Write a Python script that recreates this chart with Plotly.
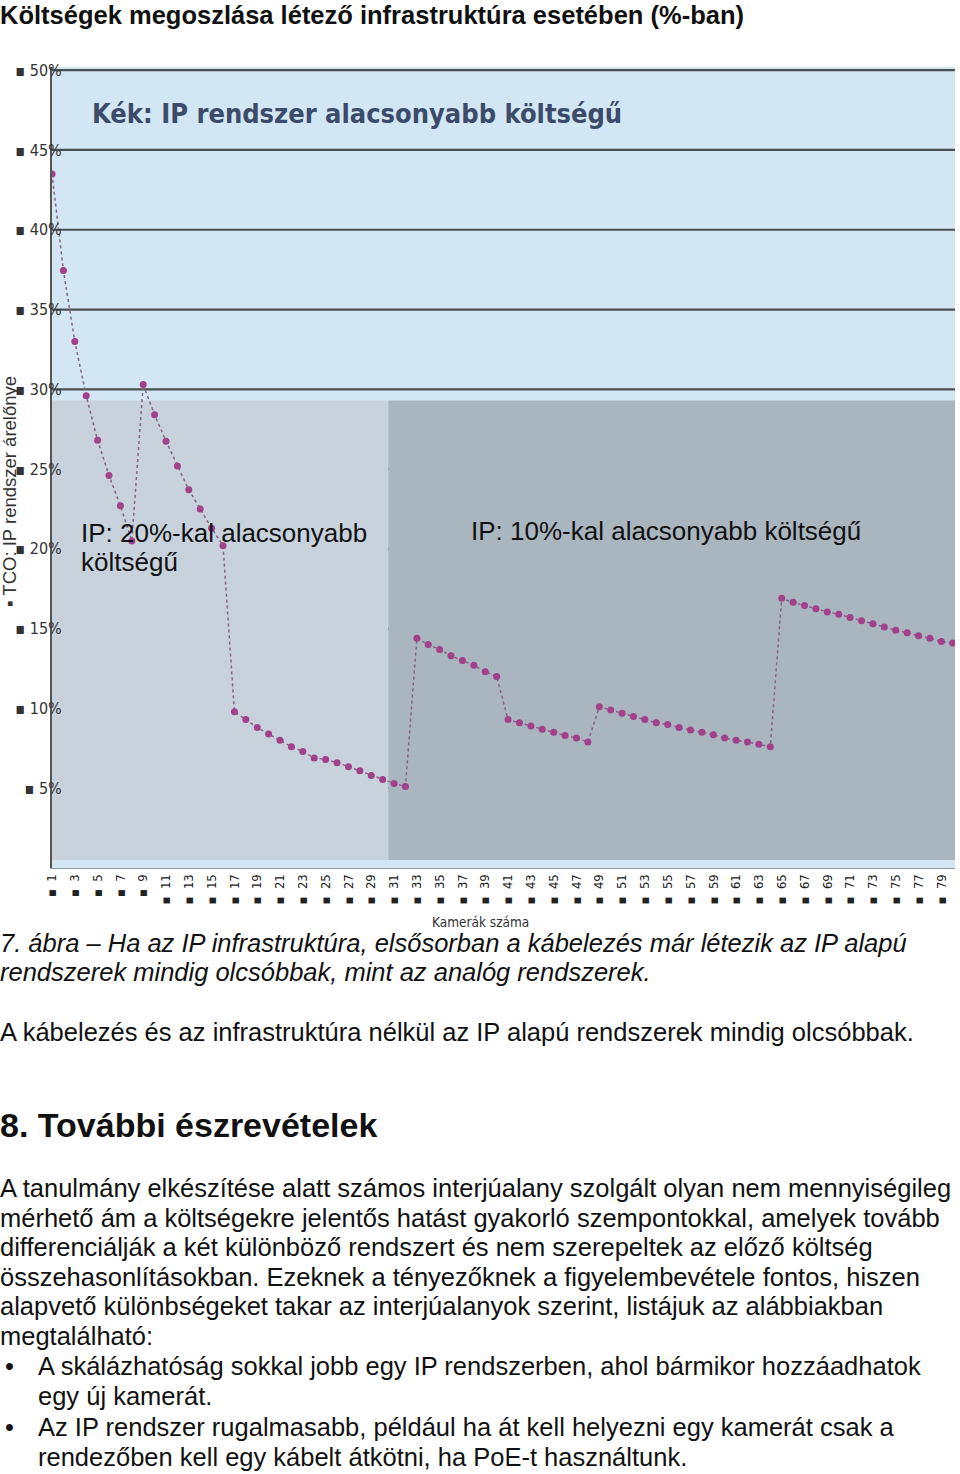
import plotly.graph_objects as go

# --- data ---
cameras = list(range(1, 81))
tco_advantage = [
    43.5, 37.45, 33.0, 29.6, 26.8, 24.6, 22.7, 20.5,
    30.3, 28.4, 26.75, 25.2, 23.7, 22.5, 21.3, 20.2,
    9.8, 9.3, 8.8, 8.4, 8.0, 7.6, 7.3, 6.9, 6.8, 6.6, 6.35, 6.1, 5.8, 5.55, 5.3, 5.1,
    14.4, 14.0, 13.7, 13.3, 13.0, 12.7, 12.3, 12.0,
    9.3, 9.1, 8.9, 8.7, 8.5, 8.3, 8.15, 7.9,
    10.1, 9.9, 9.7, 9.5, 9.3, 9.1, 9.0, 8.8, 8.65, 8.5, 8.35, 8.15, 8.0, 7.9, 7.75, 7.6,
    16.9, 16.65, 16.45, 16.25, 16.05, 15.9, 15.7, 15.5, 15.3, 15.1, 14.9, 14.75, 14.55, 14.4, 14.2, 14.1,
]
x_tickvals = list(range(1, 80, 2))
x_ticktext = ["\u25aa\u00a0\u00a0" + str(v) for v in x_tickvals]
y_tickvals = [5, 10, 15, 20, 25, 30, 35, 40, 45, 50]
y_ticktext = ["\u25aa " + str(v) + "%" for v in y_tickvals]
grid_levels = [5, 15, 20, 25, 30, 35, 40, 45, 50]

page_title = "Költségek megoszlása létező infrastruktúra esetében (%-ban)"
chart_banner = "Kék: IP rendszer alacsonyabb költségű"
zone_left_text = ["IP: 20%-kal alacsonyabb", "költségű"]
zone_right_text = "IP: 10%-kal alacsonyabb költségű"
caption_lines = [
    "7. ábra – Ha az IP infrastruktúra, elsősorban a kábelezés már létezik az IP alapú",
    "rendszerek mindig olcsóbbak, mint az analóg rendszerek.",
]
note_line = "A kábelezés és az infrastruktúra nélkül az IP alapú rendszerek mindig olcsóbbak."
section_title = "8. További észrevételek"
paragraph_lines = [
    "A tanulmány elkészítése alatt számos interjúalany szolgált olyan nem mennyiségileg",
    "mérhető ám a költségekre jelentős hatást gyakorló szempontokkal, amelyek tovább",
    "differenciálják a két különböző rendszert és nem szerepeltek az előző költség",
    "összehasonlításokban. Ezeknek a tényezőknek a figyelembevétele fontos, hiszen",
    "alapvető különbségeket takar az interjúalanyok szerint, listájuk az alábbiakban",
    "megtalálható:",
]
bullet_items = [
    ["A skálázhatóság sokkal jobb egy IP rendszerben, ahol bármikor hozzáadhatok",
     "egy új kamerát."],
    ["Az IP rendszer rugalmasabb, például ha át kell helyezni egy kamerát csak a",
     "rendezőben kell egy kábelt átkötni, ha PoE-t használtunk."],
]

# --- page geometry (pixels) ---
W, H = 960, 1474
L, R, T, B = 52, 5, 67, 606
PW, PH = W - L - R, H - T - B
BODY = "Liberation Sans, Arial, sans-serif"
NARROW = "Liberation Sans Narrow, DejaVu Sans Condensed, Roboto, sans-serif"


def px_x(x):
    return (x - L) / PW


def px_y(y):
    return (H - B - y) / PH


fig = go.Figure()
fig.add_trace(go.Scatter(
    x=cameras, y=tco_advantage, mode="lines+markers",
    line=dict(color="#8a5f88", width=1.5, dash="dot"),
    marker=dict(color="#a3408a", size=7),
    showlegend=False, hoverinfo="x+y",
))

shapes = [
    dict(type="rect", xref="x", yref="y", x0=1, x1=30.5, y0=0.5, y1=29.3,
         fillcolor="#c7d2dc", line_width=0, layer="below"),
    dict(type="rect", xref="x", yref="y", x0=30.5, x1=80.2, y0=0.5, y1=29.3,
         fillcolor="#a9b5bf", line_width=0, layer="below"),
]
for g in grid_levels:
    shapes.append(dict(type="line", xref="paper", yref="y", x0=0, x1=1, y0=g, y1=g,
                       line=dict(color="#4b5055", width=2.2), layer="below"))

ann = []


def text_at(x, y, s, size, family=BODY, color="#111", **kw):
    ann.append(dict(x=px_x(x), y=px_y(y), xref="paper", yref="paper", text=s,
                    showarrow=False, xanchor=kw.pop("xanchor", "left"), yanchor="middle",
                    font=dict(size=size, family=family, color=color), **kw))


text_at(-2, 15, "<b>" + page_title + "</b>", 25.5)
text_at(90, 113, "<b>" + chart_banner + "</b>", 27, family=NARROW, color="#3c4b69")
text_at(79, 533, zone_left_text[0], 26)
text_at(79, 562, zone_left_text[1], 26)
text_at(469, 531, zone_right_text, 26)
text_at(480, 922, "Kamerák száma", 13.5, family=NARROW, color="#333", xanchor="center")
ann.append(dict(x=px_x(10), y=px_y(492), xref="paper", yref="paper",
                xanchor="center", yanchor="middle",
                text="\u25aa TCO: IP rendszer árelőnye", textangle=-90, showarrow=False,
                font=dict(size=18.5, family=BODY, color="#333")))

text_at(-2, 943, "<i>" + caption_lines[0] + "</i>", 25.5)
text_at(-2, 972, "<i>" + caption_lines[1] + "</i>", 25.5)
text_at(-2, 1032, note_line, 25.5)
text_at(-2, 1125, "<b>" + section_title + "</b>", 34)
for i, line in enumerate(paragraph_lines):
    text_at(-2, 1188 + i * 29.5, line, 25.5)
y0 = 1366
for item in bullet_items:
    text_at(3, y0, "\u2022", 25.5)
    for j, line in enumerate(item):
        text_at(36, y0 + j * 29.5, line, 25.5)
    y0 += 61

fig.update_layout(
    width=W, height=H, margin=dict(l=L, r=R, t=T, b=B, autoexpand=False),
    paper_bgcolor="white", plot_bgcolor="#d3e6f3",
    shapes=shapes, annotations=ann,
    xaxis=dict(range=[1, 80.2], tickvals=x_tickvals, ticktext=x_ticktext,
               tickangle=-90, showgrid=False, zeroline=False, automargin=False,
               showline=True, linecolor="#8d979f", linewidth=1,
               tickfont=dict(size=13, family=NARROW, color="#222")),
    yaxis=dict(range=[0, 50.2], tickvals=y_tickvals, ticktext=y_ticktext,
               showgrid=False, zeroline=False, showline=True, linecolor="#555",
               linewidth=2, ticklabelstandoff=-15, automargin=False,
               tickfont=dict(size=16, family=NARROW, color="#333")),
)

# the page's default body margin would push the figure 8px right and down
fig.write_html("out.html", config={"displayModeBar": False},
               post_script="document.body.style.margin='0';")
